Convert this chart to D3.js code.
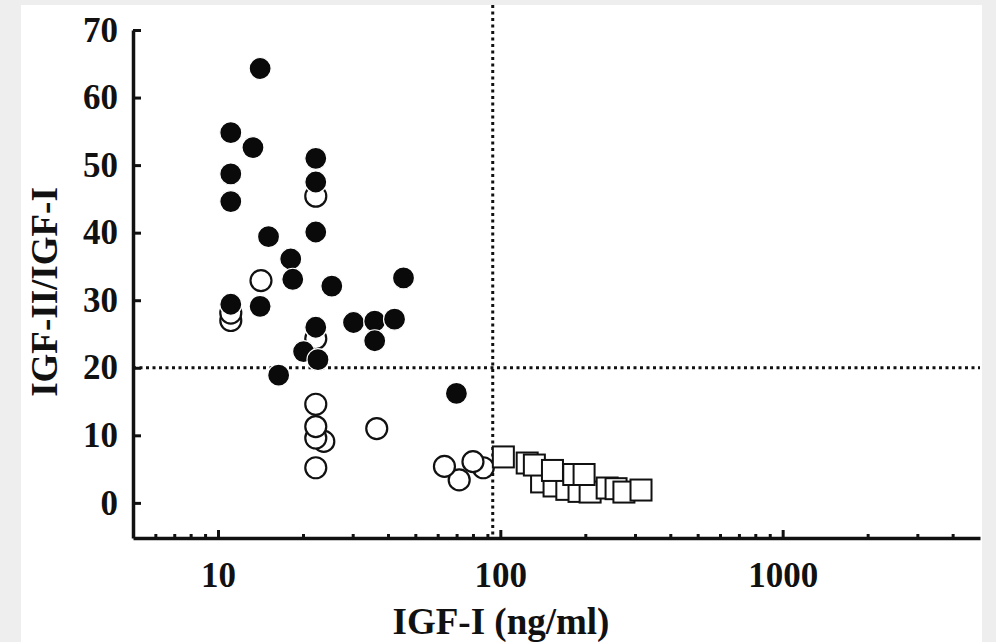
<!DOCTYPE html>
<html>
<head>
<meta charset="utf-8">
<script src="https://cdn.jsdelivr.net/npm/d3@7.9.0/dist/d3.min.js"></script>
<style>
  html, body { margin: 0; padding: 0; background: #eeeeee; }
  svg { display: block; }
</style>
</head>
<body>
<svg id="chart" width="996" height="642"></svg>
<script>
// IGF-I (ng/ml) vs IGF-II/IGF-I ratio

// filled circles
const filledX = [14.1, 11.1, 13.3, 11.1, 11.1, 22.2, 22.2, 22.2, 15.1, 18.1, 18.4, 25.3, 45.4,
  14.1, 11.1, 22.2, 20.1, 22.6, 30.2, 35.9, 35.9, 42.2, 16.4, 69.9];
const filledY = [64.3, 54.8, 52.6, 48.7, 44.6, 51.0, 47.5, 40.1, 39.4, 36.1, 33.1, 32.1, 33.3,
  29.1, 29.4, 26.0, 22.4, 21.2, 26.7, 26.9, 24.0, 27.2, 18.9, 16.2];

// open circles (lower ones listed first so they sit underneath)
const openX = [71.5, 22.2, 87, 63.4, 80, 23.7, 22.2, 36.5, 22.2, 22.2, 22.2, 11.1, 11.1, 14.2, 22.2];
const openY = [3.4, 5.2, 5.2, 5.4, 6.1, 9.1, 9.6, 11.0, 11.3, 14.6, 24.3, 27.0, 28.1, 32.9, 45.4];

// open squares (hidden ones behind first, then left to right)
const squareX = [140, 155, 172, 190, 208,
  102.5, 124.5, 132, 153, 182, 198, 239, 257, 274, 315];
const squareY = [3.1, 2.5, 2.0, 1.7, 1.6,
  6.8, 5.9, 5.6, 4.8, 4.2, 4.2, 2.2, 2.1, 1.6, 1.9];

const xMajor = [10, 100, 1000];
const xMinor = [6, 7, 8, 9, 20, 30, 40, 50, 60, 70, 80, 90,
  200, 300, 400, 500, 600, 700, 800, 900, 2000, 3000, 4000];
const yTicks = [0, 10, 20, 30, 40, 50, 60, 70];

const cutX = 94;   // vertical cut-off
const cutY = 20;   // horizontal cut-off

const svg = d3.select('#chart');
const font = '"Liberation Serif", "Times New Roman", serif';

// white paper area
svg.append('rect')
  .attr('x', 21).attr('y', 5)
  .attr('width', 961).attr('height', 637)
  .attr('fill', '#ffffff');

const x = d3.scaleLog().domain([5, 5000]).range([133, 980]);
const y = d3.scaleLinear().domain([-5.2, 70]).range([538, 30]);

// dotted reference lines
svg.append('line')
  .attr('x1', x(cutX)).attr('x2', x(cutX))
  .attr('y1', 5).attr('y2', y(-5.2))
  .attr('stroke', '#111').attr('stroke-width', 3)
  .attr('stroke-dasharray', '3,3.5');

svg.append('line')
  .attr('x1', x(5)).attr('x2', x(5000))
  .attr('y1', y(cutY)).attr('y2', y(cutY))
  .attr('stroke', '#111').attr('stroke-width', 3)
  .attr('stroke-dasharray', '3,3.5');

// axes
const xAxis = svg.append('g')
  .attr('transform', `translate(0,${y(-5.2)})`)
  .call(d3.axisBottom(x).tickValues(xMajor).tickFormat(d3.format('d'))
    .tickSizeInner(-8).tickSizeOuter(0).tickPadding(24));

const xMinorAxis = svg.append('g')
  .attr('transform', `translate(0,${y(-5.2)})`)
  .call(d3.axisBottom(x).tickValues(xMinor).tickFormat('')
    .tickSizeInner(-4).tickSizeOuter(0));

const yAxis = svg.append('g')
  .attr('transform', `translate(${x(5)},0)`)
  .call(d3.axisLeft(y).tickValues(yTicks)
    .tickSizeInner(-8).tickSizeOuter(0).tickPadding(15));

[xAxis, xMinorAxis, yAxis].forEach((g) => {
  g.select('.domain').attr('stroke', '#111').attr('stroke-width', 3.5);
  g.selectAll('.tick line').attr('stroke', '#111').attr('stroke-width', 3);
  g.selectAll('text')
    .attr('font-family', font)
    .attr('font-weight', 'bold')
    .attr('font-size', 35)
    .attr('fill', '#111');
});
xMinorAxis.select('.domain').remove();

// axis titles
svg.append('text')
  .attr('x', 501).attr('y', 634)
  .attr('text-anchor', 'middle')
  .attr('font-family', font).attr('font-weight', 'bold')
  .attr('font-size', 37).attr('fill', '#111')
  .text('IGF-I (ng/ml)');

svg.append('text')
  .attr('transform', 'translate(57,292) rotate(-90)')
  .attr('text-anchor', 'middle')
  .attr('font-family', font).attr('font-weight', 'bold')
  .attr('font-size', 37).attr('fill', '#111')
  .text('IGF-II/IGF-I');

// marks
const openData = openX.map((d, i) => ({ x: d, y: openY[i] }));
const filledData = filledX.map((d, i) => ({ x: d, y: filledY[i] }));
const squareData = squareX.map((d, i) => ({ x: d, y: squareY[i] }));

svg.append('g').selectAll('circle')
  .data(openData)
  .join('circle')
  .attr('cx', (d) => x(d.x))
  .attr('cy', (d) => y(d.y))
  .attr('r', 10.5)
  .attr('fill', '#fff')
  .attr('stroke', '#111')
  .attr('stroke-width', 2.2);

svg.append('g').selectAll('circle')
  .data(filledData)
  .join('circle')
  .attr('cx', (d) => x(d.x))
  .attr('cy', (d) => y(d.y))
  .attr('r', 11)
  .attr('fill', '#0a0a0a')
  .attr('stroke', '#fff')
  .attr('stroke-width', 1.2);

svg.append('g').selectAll('rect')
  .data(squareData)
  .join('rect')
  .attr('x', (d) => x(d.x) - 10.5)
  .attr('y', (d) => y(d.y) - 10.5)
  .attr('width', 21)
  .attr('height', 21)
  .attr('fill', '#fff')
  .attr('stroke', '#111')
  .attr('stroke-width', 2);
</script>
</body>
</html>
